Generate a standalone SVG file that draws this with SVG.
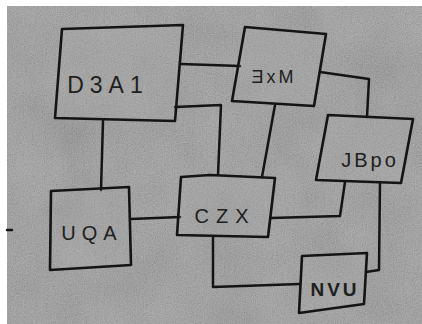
<svg xmlns="http://www.w3.org/2000/svg" width="422" height="324" viewBox="0 0 422 324">
  <defs>
    <filter id="grain" x="0" y="0" width="100%" height="100%">
      <feTurbulence type="fractalNoise" baseFrequency="0.9" numOctaves="2" seed="3"/>
      <feColorMatrix type="matrix" values="0.33 0.33 0.33 0 0  0.33 0.33 0.33 0 0  0.33 0.33 0.33 0 0  0 0 0 0 1"/>
    </filter>
    <filter id="blotch" x="0" y="0" width="100%" height="100%">
      <feTurbulence type="fractalNoise" baseFrequency="0.02" numOctaves="2" seed="7"/>
      <feColorMatrix type="matrix" values="0.33 0.33 0.33 0 0  0.33 0.33 0.33 0 0  0.33 0.33 0.33 0 0  0 0 0 0 1"/>
    </filter>
  </defs>
  <style>
    .box { fill: #b0b0b0; fill-opacity: 0.2; stroke: #141414; stroke-width: 2.6; stroke-linejoin: round; }
    .wire { fill: none; stroke: #141414; stroke-width: 2.5; stroke-linejoin: round; stroke-linecap: round; }
    .lbl { font-family: "Liberation Sans", "DejaVu Sans", sans-serif; fill: #202020; text-anchor: middle; }
  </style>
  <rect x="0" y="0" width="422" height="324" fill="#ffffff"/>
  <rect x="7" y="6" width="415" height="318" fill="#7a7a7a"/>
  <rect x="7" y="6" width="415" height="318" filter="url(#blotch)" opacity="0.3"/>
  <rect x="7" y="6" width="415" height="318" filter="url(#grain)" opacity="0.45"/>

  <g id="connectors">
    <polyline class="wire" points="181,64 240,66"/>
    <polyline class="wire" points="175,107 221,105 218,175"/>
    <polyline class="wire" points="275,105 262,177"/>
    <polyline class="wire" points="320,72 369,79 367,117"/>
    <polyline class="wire" points="103,121 101,190"/>
    <polyline class="wire" points="131,219 180,217"/>
    <polyline class="wire" points="271,218 340,216 345,182"/>
    <polyline class="wire" points="213,237 213,287 300,284"/>
    <polyline class="wire" points="380,182 379,270 366,272"/>
    <polyline class="wire" points="7,230 12,230"/>
  </g>

  <g id="D3A1">
    <polygon class="box" points="62,29 183,25 175,121 55,118"/>
    <text class="lbl" x="108" y="93" font-size="23" letter-spacing="6">D3A1</text>
  </g>
  <g id="EXM">
    <polygon class="box" points="245,27 326,34 314,106 232,101"/>
    <text class="lbl" x="274" y="83" font-size="18" letter-spacing="3">ƎxM</text>
  </g>
  <g id="JBPO">
    <polygon class="box" points="328,115 413,119 401,183 316,180"/>
    <text class="lbl" x="370" y="167" font-size="20" letter-spacing="3">JBpo</text>
  </g>
  <g id="UQA">
    <polygon class="box" points="51,191 129,187 131,265 50,270"/>
    <text class="lbl" x="92" y="240" font-size="20" letter-spacing="6">UQA</text>
  </g>
  <g id="CZX">
    <polygon class="box" points="181,177 210,175 275,178 268,237 177,235"/>
    <text class="lbl" x="225" y="223" font-size="20" letter-spacing="7">CZX</text>
  </g>
  <g id="NVU">
    <polygon class="box" points="302,256 367,253 364,304 299,313"/>
    <text class="lbl" x="335" y="296" font-size="19" font-weight="bold" letter-spacing="3" fill="#111111">NVU</text>
  </g>
</svg>
